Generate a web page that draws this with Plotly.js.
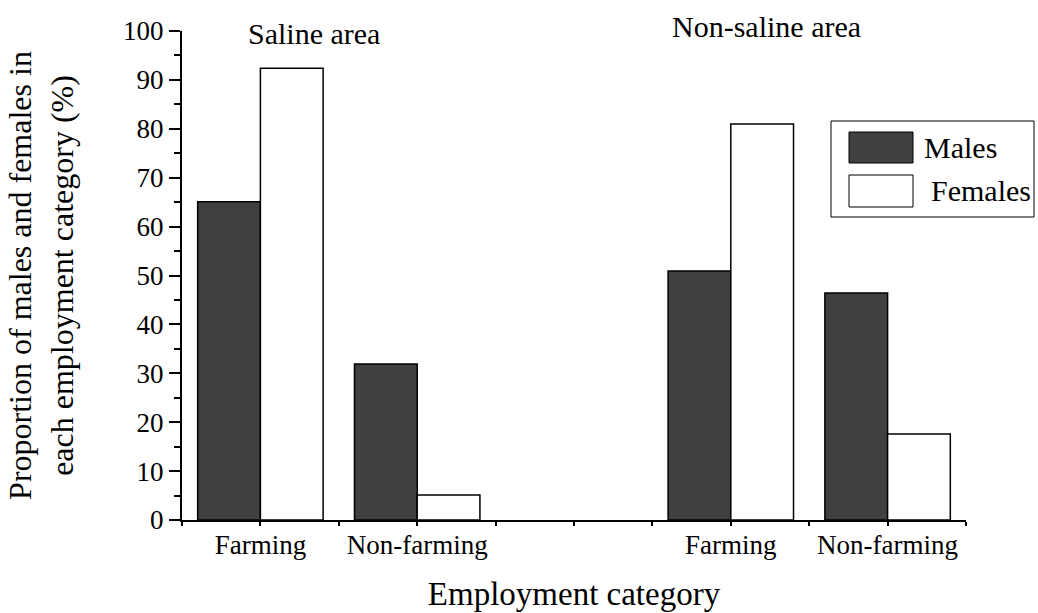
<!DOCTYPE html>
<html>
<head>
<meta charset="utf-8">
<script src="https://cdn.plot.ly/plotly-3.0.1.min.js"></script>
<style>html,body{margin:0;padding:0;background:#fff;}#chart{width:1038px;height:613px;}</style>
</head>
<body>
<div id="chart"></div>
<script>
// Data
const categories = ['Farming', 'Non-farming', 'Farming', 'Non-farming'];
const groupPositions = [1, 3, 7, 9];
const males = [65.1, 31.9, 50.9, 46.4];
const females = [92.4, 5.1, 81.0, 17.6];
const seriesNames = ['Males', 'Females'];
const areaLabels = ['Saline area', 'Non-saline area'];
const areaLabelX = [1.68, 7.46];
const yTickVals = [0, 10, 20, 30, 40, 50, 60, 70, 80, 90, 100];

const FONT = 'Liberation Serif';
const offset = 0.4;

const xTickVals = [];
const xTickText = [];
for (let i = 0; i <= 10; i++) {
  xTickVals.push(i);
  const k = groupPositions.indexOf(i);
  xTickText.push(k >= 0 ? categories[k] : '');
}

const traces = [
  {
    type: 'bar', name: seriesNames[0],
    x: groupPositions.map(p => p - offset), y: males,
    width: 0.8,
    marker: {color: '#404040', line: {color: '#000', width: 1.5}},
    showlegend: false, hoverinfo: 'skip'
  },
  {
    type: 'bar', name: seriesNames[1],
    x: groupPositions.map(p => p + offset), y: females,
    width: 0.8,
    marker: {color: '#ffffff', line: {color: '#000', width: 1.5}},
    showlegend: false, hoverinfo: 'skip'
  }
];

const W = 1038, H = 613, mL = 182, mR = 72, mT = 31, mB = 93;
const pw = W - mL - mR, ph = H - mT - mB;
function px2x(px) { return (px - mL) / pw; }
function px2y(py) { return (H - mB - py) / ph; }

const legendBoxes = [
  {x0: 831, x1: 1034, y0: 121, y1: 217, fill: 'rgba(0,0,0,0)'},
  {x0: 849, x1: 913, y0: 132, y1: 163, fill: '#404040'},
  {x0: 849, x1: 913, y0: 175, y1: 207, fill: '#ffffff'}
];
const legendShapes = legendBoxes.map(b => ({
  type: 'rect', xref: 'paper', yref: 'paper',
  x0: px2x(b.x0), x1: px2x(b.x1), y0: px2y(b.y1), y1: px2y(b.y0),
  line: {color: '#000', width: 1}, fillcolor: b.fill
}));

const annotations = [
  {x: areaLabelX[0], y: 1.0, xref: 'x', yref: 'paper', yshift: -2, text: areaLabels[0], showarrow: false, font: {family: FONT, size: 30, color: '#000'}, xanchor: 'center', yanchor: 'middle'},
  {x: areaLabelX[1], y: 1.0, xref: 'x', yref: 'paper', yshift: 5, text: areaLabels[1], showarrow: false, font: {family: FONT, size: 30, color: '#000'}, xanchor: 'center', yanchor: 'middle'},
  {x: px2x(922), y: px2y(147), xref: 'paper', yref: 'paper', text: seriesNames[0], showarrow: false, font: {family: FONT, size: 30, color: '#000'}, xanchor: 'left', yanchor: 'middle'},
  {x: px2x(929), y: px2y(191), xref: 'paper', yref: 'paper', text: seriesNames[1], showarrow: false, font: {family: FONT, size: 30, color: '#000'}, xanchor: 'left', yanchor: 'middle'}
];

const layout = {
  width: W, height: H,
  margin: {l: mL, r: mR, t: mT, b: mB, pad: 0},
  paper_bgcolor: '#fff', plot_bgcolor: '#fff',
  font: {family: FONT, color: '#000', size: 26},
  showlegend: false,
  barmode: 'overlay',
  xaxis: {
    range: [0, 10], showgrid: false, zeroline: false,
    showline: true, linecolor: '#000', linewidth: 2,
    tickmode: 'array', tickvals: xTickVals, ticktext: xTickText,
    ticks: 'outside', ticklen: 4, tickwidth: 2, tickcolor: '#000',
    ticklabelstandoff: -4,
    tickfont: {family: FONT, size: 27, color: '#000'},
    title: {text: 'Employment category', font: {family: FONT, size: 33, color: '#000'}, standoff: 22},
    fixedrange: true
  },
  yaxis: {
    range: [0, 100], showgrid: false, zeroline: false,
    showline: true, linecolor: '#000', linewidth: 2,
    tickmode: 'array', tickvals: yTickVals,
    ticks: 'outside', ticklen: 11, tickwidth: 2, tickcolor: '#000',
    minor: {dtick: 5, tick0: 0, ticks: 'outside', ticklen: 6, tickwidth: 2, tickcolor: '#000', showgrid: false},
    tickfont: {family: FONT, size: 27, color: '#000'},
    title: {text: 'Proportion of males and females in<br>each employment category (%)', font: {family: FONT, size: 32, color: '#000'}, standoff: 40},
    fixedrange: true
  },
  shapes: legendShapes,
  annotations: annotations
};

Plotly.newPlot('chart', traces, layout, {displayModeBar: false, staticPlot: true});
</script>
</body>
</html>
